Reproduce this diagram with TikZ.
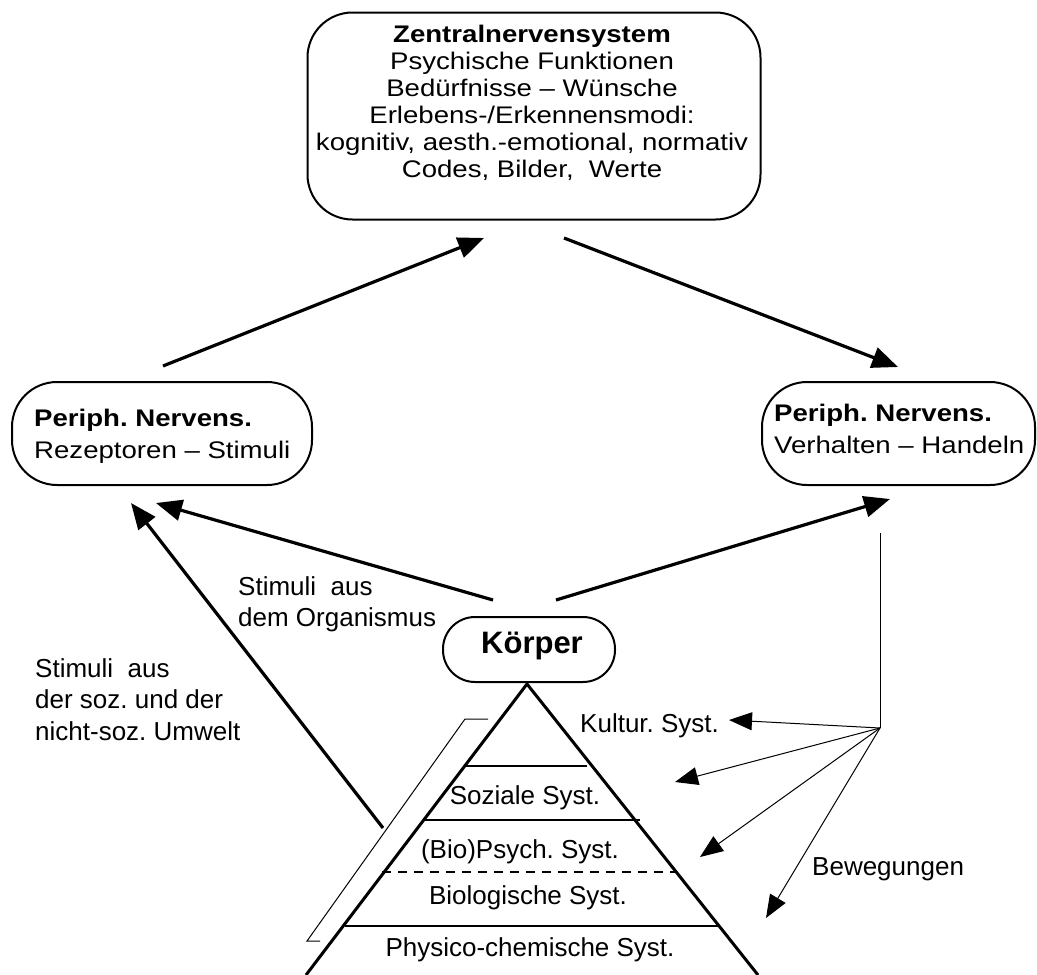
\documentclass[tikz,border=0pt]{standalone}
\usepackage{fontspec}
\setmainfont{Liberation Sans}
\newfontfamily\boxfont{Liberation Sans}[FakeStretch=1.15]
\usetikzlibrary{arrows.meta}
\AtBeginDocument{\frenchspacing}
\tikzset{
  frame/.style={draw, line width=2pt, rectangle, inner sep=0pt},
  boxtext/.style={inner sep=0pt, font=\boxfont\fontsize{24}{27}\selectfont},
  periphtext/.style={inner sep=0pt, font=\boxfont\fontsize{24}{31.5}\selectfont},
  freetext/.style={inner sep=0pt, font=\fontsize{26}{31.5}\selectfont},
  bigarrow/.style={line width=3.2pt, -{Triangle[length=26pt,width=21pt]}},
  thinarrow/.style={line width=1pt, -{Triangle[length=23pt,width=18pt]}},
  thinline/.style={line width=1pt},
  pyr/.style={line width=3pt},
  layer/.style={line width=2.5pt},
}
\begin{document}
\begin{tikzpicture}[x=1pt,y=-1pt]
\useasboundingbox (0,0) rectangle (1037,975);
\clip (0,0) rectangle (1037,975);

% boxes
\node[frame, rounded corners=45pt, minimum width=453pt, minimum height=207pt] (zns) at (534,116) {};
\node[boxtext, align=center] (znstext) at (532,103)
  {\textbf{Zentralnervensystem}\\Psychische Funktionen\\Bedürfnisse – Wünsche\\Erlebens-/Erkennensmodi:\\kognitiv, aesth.-emotional, normativ\\Codes, Bilder,\ \ Werte};

\node[frame, rounded corners=45pt, minimum width=300pt, minimum height=103pt] (pl) at (162,433.5) {};
\node[periphtext, align=left, anchor=north west] (pltext) at (34,409)
  {\textbf{Periph. Nervens.}\\Rezeptoren – Stimuli};

\node[frame, rounded corners=45pt, minimum width=273pt, minimum height=103pt] (pr) at (898.5,433.5) {};
\node[periphtext, align=left, anchor=north west] (prtext) at (774,404)
  {\textbf{Periph. Nervens.}\\Verhalten – Handeln};

\node[frame, rounded corners=32pt, minimum width=172pt, minimum height=65pt] (koerper) at (529,649.5) {};
\node[inner sep=0pt, anchor=base, font=\bfseries\fontsize{31}{36}\selectfont] (ktext) at (532,653) {Körper};

% pyramid
\coordinate (apex) at (527,684);
\coordinate (pbl) at (306,975);
\coordinate (pbr) at (758,975);
\draw[pyr] (pbl) -- (apex) -- (pbr);
\coordinate (l1a) at (465,766); \coordinate (l1b) at (587,766);
\coordinate (l2a) at (425,820); \coordinate (l2b) at (640,820);
\coordinate (l3a) at (382,872); \coordinate (l3b) at (677,872);
\coordinate (l4a) at (345,926); \coordinate (l4b) at (718,926);
\draw[layer] (l1a) -- (l1b);
\draw[layer] (l2a) -- (l2b);
\draw[line width=2pt, dash pattern=on 9pt off 7pt] (l3a) -- (l3b);
\draw[layer] (l4a) -- (l4b);

\node[freetext, anchor=base west] (kultur) at (580,732) {Kultur. Syst.};
\node[freetext, anchor=base] (sozial) at (525,804) {Soziale Syst.};
\node[freetext, anchor=base] (psych) at (520,858) {(Bio)Psych. Syst.};
\node[freetext, anchor=base] (bio) at (528,904) {Biologische Syst.};
\node[freetext, anchor=base] (phys) at (530,956) {Physico-chemische Syst.};

% bracket
\coordinate (b1) at (488,719);
\coordinate (b2) at (465,719);
\coordinate (b3) at (307,941);
\coordinate (b4) at (320,941);
\draw[thinline] (b1) -- (b2) -- (b3) -- (b4);

% free labels
\node[freetext, align=left, anchor=north west] (orgtext) at (238,576)
  {Stimuli\ \ aus\\dem Organismus};
\node[freetext, align=left, anchor=north west] (umwtext) at (35,658)
  {Stimuli\ \ aus\\der soz. und der\\nicht-soz. Umwelt};
\node[freetext, anchor=base west] (beweg) at (812,875) {Bewegungen};

% thick arrows
\coordinate (a1s) at (163,366); \coordinate (a1e) at (484,238);
\coordinate (a2s) at (564,238); \coordinate (a2e) at (898,367);
\coordinate (a3s) at (493,600); \coordinate (a3e) at (156,503);
\coordinate (a4s) at (556,600); \coordinate (a4e) at (890,499);
\coordinate (a5s) at (383,828); \coordinate (a5e) at (131,503);
\draw[bigarrow] (a1s) -- (a1e);
\draw[bigarrow] (a2s) -- (a2e);
\draw[bigarrow] (a3s) -- (a3e);
\draw[bigarrow] (a4s) -- (a4e);
\draw[bigarrow] (a5s) -- (a5e);

% thin arrows (Bewegungen)
\coordinate (vtop) at (880,533);
\coordinate (hub) at (880,728);
\coordinate (t1) at (729,720);
\coordinate (t2) at (675,782);
\coordinate (t3) at (700,857);
\coordinate (t4) at (766,918);
\draw[thinline] (vtop) -- (hub);
\draw[thinarrow] (hub) -- (t1);
\draw[thinarrow] (hub) -- (t2);
\draw[thinarrow] (hub) -- (t3);
\draw[thinarrow] (hub) -- (t4);
\end{tikzpicture}
\end{document}
